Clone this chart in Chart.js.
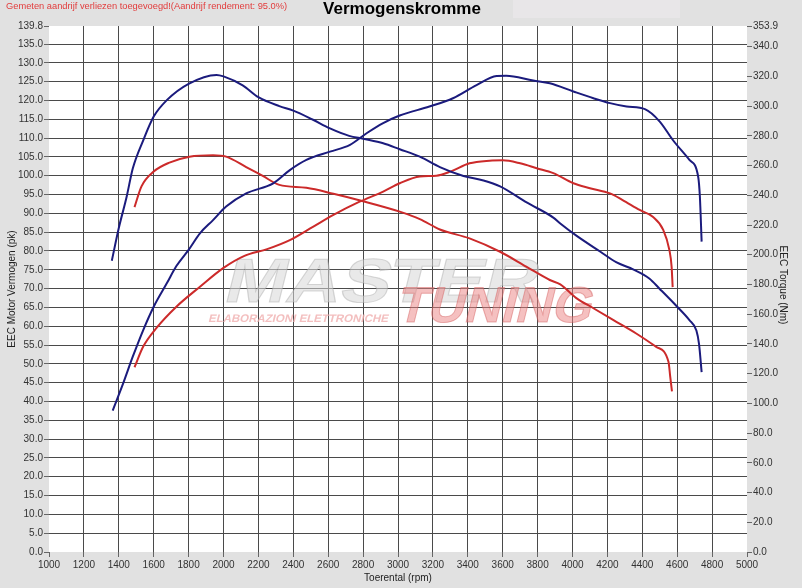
<!DOCTYPE html>
<html>
<head>
<meta charset="utf-8">
<script src="https://cdn.jsdelivr.net/npm/chart.js@4.4.1/dist/chart.umd.min.js"></script>
<style>
  html, body { margin: 0; padding: 0; background: #e1e1e1; }
  #c { display: block; }
</style>
</head>
<body>
<canvas id="c" width="802" height="588"></canvas>
<script>
// ---- Data ----
const xTickLabels = [1000,1200,1400,1600,1800,2000,2200,2400,2600,2800,3000,3200,3400,3600,3800,4000,4200,4400,4600,4800,5000];
const leftTickValues = [0,5,10,15,20,25,30,35,40,45,50,55,60,65,70,75,80,85,90,95,100,105,110,115,120,125,130,135,139.8];
const rightTickValues = [0,20,40,60,80,100,120,140,160,180,200,220,240,260,280,300,320,340,353.9];

// Blue (power, pk)
const bluePowerRpm = [1365,1425,1480,1540,1600,1675,1730,1800,1865,1940,2015,2130,2285,2380,2475,2610,2725,2820,2915,3010,3180,3315,3450,3565,3620,3775,3870,4005,4120,4215,4310,4415,4500,4575,4670,4720,4730,4740];
const bluePowerPk  = [37.6,44.8,51.9,59.0,65.2,71.4,76.0,80.3,84.7,88.2,91.8,95.3,98.0,101.5,104.2,106.4,108.2,111.3,114.0,116.0,118.4,120.6,124.1,126.5,126.6,125.3,124.6,122.4,120.6,119.3,118.4,117.7,114.4,109.5,104.2,99.8,94.4,82.5];

// Blue (torque, Nm)
const blueTorqueRpm = [1360,1400,1445,1480,1540,1600,1675,1800,1960,2000,2110,2200,2320,2400,2510,2610,2720,2800,2915,3010,3125,3240,3375,3490,3585,3740,3890,3930,4020,4160,4250,4350,4440,4500,4600,4670,4710,4725,4740];
const blueTorqueNm  = [196,218,239,258,277,293,304,315,321,320,314,306,300,297,291,285,280,278,275,271,266,259,253,250,246,235,225,221,213,202,195,190,184,177,165,156,149,140,121];

// Red (power, pk)
const redPowerRpm = [1490,1540,1615,1730,1865,2000,2120,2250,2380,2515,2630,2780,2915,3010,3125,3220,3300,3410,3525,3600,3700,3795,3890,4005,4100,4215,4285,4385,4460,4520,4555,4568,4574];
const redPowerPk  = [49.1,54.6,59.5,65.2,70.5,75.5,78.7,80.5,82.9,86.5,89.6,93.1,95.8,98.0,99.8,100.0,101.1,103.3,104.0,104.1,103.3,102.0,100.7,98.0,96.7,95.3,93.6,90.9,89.1,85.6,80.3,75.8,70.4];

// Red (torque, Nm)
const redTorqueRpm = [1490,1530,1600,1690,1805,1940,2015,2130,2225,2320,2475,2630,2800,3010,3125,3240,3410,3585,3735,3870,3930,4020,4120,4235,4365,4480,4550,4560,4570];
const redTorqueNm  = [232,246,256,262,266,267,266,259,253,247,245,241,236,229,224,217,211,202,192,183,180,171,164,156,147,138,128,118,108];

const titleText = 'Vermogenskromme';
const noteText = 'Gemeten aandrijf verliezen toegevoegd!(Aandrijf rendement: 95.0%)';
const xTitle = 'Toerental (rpm)';
const yLeftTitle = 'EEC Motor Vermogen (pk)';
const yRightTitle = 'EEC Torque (Nm)';

// ---- Helpers ----
const pts = (xs, ys) => xs.map((x, i) => ({ x: x, y: ys[i] }));
const FONT = '"Liberation Sans", Arial, sans-serif';
const BLUE = '#1b1b7d';
const RED = '#cc2a2a';

const decor = {
  id: 'decor',
  beforeDraw(chart) {
    const ctx = chart.ctx, a = chart.chartArea;
    ctx.save();
    ctx.fillStyle = '#e1e1e1';
    ctx.fillRect(0, 0, chart.width, chart.height);
    ctx.fillStyle = '#e8e6e8';
    ctx.fillRect(513, 0, 167, 18);
    ctx.fillStyle = '#ffffff';
    ctx.fillRect(a.left, a.top, a.right - a.left, a.bottom - a.top);
    ctx.restore();
  },
  beforeDatasetsDraw(chart) {
    // watermark logo (as text)
    const ctx = chart.ctx;
    ctx.save();
    ctx.beginPath();
    const a = chart.chartArea;
    ctx.rect(a.left, a.top, a.right - a.left, a.bottom - a.top);
    ctx.clip();
    function stretched(txt, font, x, yBase, w, fill, stroke) {
      ctx.font = font;
      const m = ctx.measureText(txt).width;
      ctx.save();
      ctx.translate(x, yBase);
      ctx.transform(1, 0, -0.25, 1, 0, 0);
      ctx.scale(w / m, 1);
      ctx.textBaseline = 'alphabetic';
      ctx.fillStyle = fill;
      ctx.fillText(txt, 0, 0);
      if (stroke) { ctx.strokeStyle = stroke; ctx.lineWidth = 1; ctx.strokeText(txt, 0, 0); }
      ctx.restore();
    }
    stretched('MAS', 'bold 62px ' + FONT, 222, 302, 165, 'rgba(215,215,215,0.55)', 'rgba(170,170,170,0.45)');
    stretched('TER', 'bold 62px ' + FONT, 385, 302, 150, 'rgba(215,215,215,0.55)', 'rgba(170,170,170,0.45)');
    stretched('TUNING', 'bold 50px ' + FONT, 395, 322, 195, 'rgba(235,130,130,0.5)', 'rgba(210,90,90,0.45)');
    stretched('ELABORAZIONI ELETTRONICHE', 'bold 11px ' + FONT, 208, 322, 180, 'rgba(240,175,175,0.8)', null);
    ctx.restore();
  },
  afterDraw(chart) {
    const ctx = chart.ctx, a = chart.chartArea;
    ctx.save();
    ctx.textBaseline = 'middle';
    ctx.fillStyle = '#e23c3c';
    ctx.font = '9.3px ' + FONT;
    ctx.textAlign = 'left';
    ctx.fillText(noteText, 6, 6);

    ctx.fillStyle = '#000';
    ctx.font = 'bold 17px ' + FONT;
    ctx.textAlign = 'center';
    ctx.fillText(titleText, 402, 9);

    ctx.fillStyle = '#222';
    ctx.font = '10px ' + FONT;
    ctx.fillText(xTitle, (a.left + a.right) / 2, 578);

    ctx.save();
    ctx.translate(12, (a.top + a.bottom) / 2);
    ctx.rotate(-Math.PI / 2);
    ctx.fillText(yLeftTitle, 0, 0);
    ctx.restore();

    ctx.save();
    ctx.translate(783, (a.top + a.bottom) / 2 - 4);
    ctx.rotate(Math.PI / 2);
    ctx.fillText(yRightTitle, 0, 0);
    ctx.restore();
    ctx.restore();
  }
};

const gridColor = '#4a4a4a';
const edgeless = (first, last) => (c) => {
  const v = c.tick ? c.tick.value : null;
  return (v === first || v === last) ? 'rgba(0,0,0,0)' : gridColor;
};

const line = (label, data, color, axis) => ({
  label: label, data: data, yAxisID: axis,
  borderColor: color, backgroundColor: color, borderWidth: 2,
  pointRadius: 0, fill: false, tension: 0.4, cubicInterpolationMode: 'monotone'
});

new Chart(document.getElementById('c'), {
  type: 'line',
  data: {
    datasets: [
      line('Vermogen (blauw)', pts(bluePowerRpm, bluePowerPk), BLUE, 'y'),
      line('Koppel (blauw)', pts(blueTorqueRpm, blueTorqueNm), BLUE, 'y2'),
      line('Vermogen (rood)', pts(redPowerRpm, redPowerPk), RED, 'y'),
      line('Koppel (rood)', pts(redTorqueRpm, redTorqueNm), RED, 'y2')
    ]
  },
  options: {
    responsive: false,
    animation: false,
    devicePixelRatio: 1,
    layout: { padding: { top: 26, left: 0, right: 0, bottom: 0 } },
    plugins: { legend: { display: false }, title: { display: false }, tooltip: { enabled: false } },
    scales: {
      x: {
        type: 'linear', min: 1000, max: 5000,
        afterBuildTicks: (s) => { s.ticks = xTickLabels.map(v => ({ value: v })); },
        afterFit: (s) => { s.height = 36; },
        border: { display: false },
        grid: { color: edgeless(1000, 5000), lineWidth: 1, tickLength: 5, tickColor: '#666' },
        ticks: { color: '#333', font: { family: FONT, size: 10 }, padding: 2, maxRotation: 0, autoSkip: false,
                 callback: (v) => String(v) }
      },
      y: {
        type: 'linear', position: 'left', min: 0, max: 139.8,
        afterBuildTicks: (s) => { s.ticks = leftTickValues.map(v => ({ value: v })); },
        afterFit: (s) => { s.width = 49; },
        border: { display: false },
        grid: { color: edgeless(0, 139.8), lineWidth: 1, tickLength: 5, tickColor: '#666' },
        ticks: { color: '#333', font: { family: FONT, size: 10 }, padding: 1, autoSkip: false,
                 callback: (v) => Number(v).toFixed(1) }
      },
      y2: {
        type: 'linear', position: 'right', min: 0, max: 353.9,
        afterBuildTicks: (s) => { s.ticks = rightTickValues.map(v => ({ value: v })); },
        afterFit: (s) => { s.width = 55; },
        border: { display: false },
        grid: { drawOnChartArea: false, tickLength: 5, tickColor: '#666' },
        ticks: { color: '#333', font: { family: FONT, size: 10 }, padding: 1, autoSkip: false,
                 callback: (v) => Number(v).toFixed(1) }
      }
    }
  },
  plugins: [decor]
});
</script>
</body>
</html>
